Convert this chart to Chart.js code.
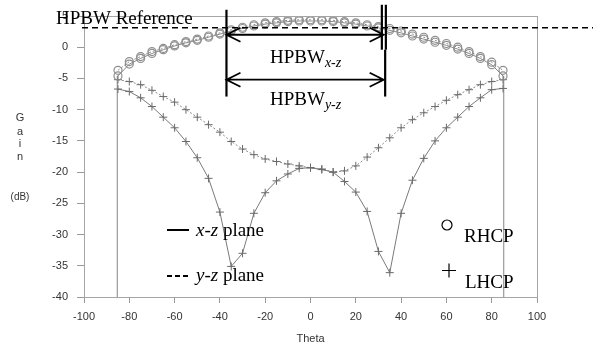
<!DOCTYPE html>
<html>
<head>
<meta charset="utf-8">
<script src="https://cdn.jsdelivr.net/npm/chart.js@4.4.1/dist/chart.umd.min.js"></script>
<style>
  html, body { margin: 0; padding: 0; background: #fff; }
  #wrap { width: 593px; height: 350px; }
</style>
</head>
<body>
<div id="wrap"><canvas id="gainChart" width="593" height="350"></canvas></div>
<script>
// theta (deg) sample points
const theta = [-85, -80, -75, -70, -65, -60, -55, -50, -45, -40, -35, -30, -25, -20, -15, -10, -5, 0,
               5, 10, 15, 20, 25, 30, 35, 40, 45, 50, 55, 60, 65, 70, 75, 80, 85];

// gain in dB
const rhcpXZ = [-4.6, -2.7, -1.8, -1.0, -0.4, 0.2, 0.7, 1.1, 1.6, 2.1, 2.6, 3.0, 3.4, 3.7, 3.9, 4.1, 4.2, 4.2,
                4.2, 4.1, 3.9, 3.7, 3.4, 3.1, 2.7, 2.3, 1.8, 1.3, 0.8, 0.3, -0.3, -1.0, -1.8, -2.8, -4.6];
const rhcpYZ = [-3.7, -2.3, -1.5, -0.7, -0.2, 0.4, 0.9, 1.3, 1.8, 2.3, 2.8, 3.2, 3.6, 3.9, 4.1, 4.3, 4.4, 4.4,
                4.4, 4.3, 4.1, 3.9, 3.6, 3.3, 3.0, 2.6, 2.1, 1.6, 1.1, 0.6, 0.0, -0.7, -1.5, -2.4, -3.7];
const lhcpXZ = [-6.7, -7.1, -8.1, -9.5, -11.2, -12.9, -15.1, -17.7, -21.0, -26.4, -35.1, -33.0, -26.6, -23.3, -21.4, -20.3, -19.4, -19.3,
                -19.6, -20.0, -21.5, -23.2, -26.3, -32.7, -36.1, -26.6, -21.3, -17.8, -15.0, -12.9, -11.2, -9.5, -8.1, -6.8, -6.6];
const lhcpYZ = [-5.2, -5.5, -6.0, -6.9, -7.9, -8.8, -10.0, -11.2, -12.4, -13.6, -15.1, -16.3, -17.2, -17.9, -18.3, -18.7, -19.0, -19.3,
                -19.5, -20.0, -19.8, -19.0, -17.6, -16.1, -14.5, -12.9, -11.6, -10.5, -9.5, -8.5, -7.6, -6.8, -6.0, -5.5, -5.2];

// vertical drop lines at the scan edges
const edgeLeft = [{ x: -85.3, y: -40 }, { x: -85.3, y: -4.6 }];
const edgeRight = [{ x: 85.3, y: -40 }, { x: 85.3, y: -4.6 }];

// axis ticks
const xTicks = [-100, -80, -60, -40, -20, 0, 20, 40, 60, 80, 100];
const yTicks = [-40, -35, -30, -25, -20, -15, -10, -5, 0, 5];

// HPBW annotation (theta / dB)
const hpbwRefDb = 3.1;
const hpbwLeft = -37.1;
const hpbwRight = 32.3;
const arrowXZdb = 2.0;
const arrowYZdb = -5.2;

const pts = vals => theta.map((t, i) => ({ x: t, y: vals[i] }));

const grey = '#8a8a8a';
const serif = '"Liberation Serif", "Times New Roman", serif';
const sans = '"Liberation Sans", Arial, sans-serif';

const overlay = {
  id: 'overlay',
  afterDraw(chart) {
    const { ctx, chartArea: a, scales: { x, y } } = chart;
    ctx.save();

    // frame
    ctx.strokeStyle = '#a5a5a5';
    ctx.lineWidth = 1;
    ctx.strokeRect(Math.round(a.left) + 0.5, Math.round(a.top) + 0.5,
                   Math.round(a.right - a.left), Math.round(a.bottom - a.top));

    // axis titles
    ctx.fillStyle = '#333';
    ctx.font = '11px ' + sans;
    ctx.textAlign = 'center';
    ctx.textBaseline = 'middle';
    ctx.fillText('Theta', x.getPixelForValue(0), 339);
    [['G', 118], ['a', 132], ['i', 144], ['n', 157]].forEach(([c, py]) => ctx.fillText(c, 20, py));
    ctx.font = '10px ' + sans;
    ctx.fillText('(dB)', 20, 197);

    // HPBW reference dashed line
    const refY = y.getPixelForValue(hpbwRefDb);
    ctx.strokeStyle = '#000';
    ctx.lineWidth = 1.5;
    ctx.setLineDash([6, 4]);
    ctx.beginPath();
    ctx.moveTo(82, refY);
    ctx.lineTo(593, refY);
    ctx.stroke();
    ctx.setLineDash([]);

    ctx.font = '19px ' + serif;
    ctx.textAlign = 'left';
    ctx.textBaseline = 'alphabetic';
    ctx.fillStyle = '#000';
    ctx.fillText('HPBW Reference', 56, 24);

    // HPBW markers
    const xl = x.getPixelForValue(hpbwLeft);
    const xr = x.getPixelForValue(hpbwRight);
    ctx.lineWidth = 2.2;
    const vline = (px, d1, d2) => {
      ctx.beginPath();
      ctx.moveTo(px, y.getPixelForValue(d1));
      ctx.lineTo(px, y.getPixelForValue(d2));
      ctx.stroke();
    };
    vline(xl, 6.0, -7.9);
    vline(xr - 1.8, 6.8, -0.4);
    vline(xr + 2.2, 6.8, -0.4);
    vline(xr + 1.5, -0.4, -7.9);

    ctx.lineWidth = 1.8;
    const arrow = db => {
      const py = y.getPixelForValue(db);
      ctx.beginPath();
      ctx.moveTo(xl, py); ctx.lineTo(xr, py);
      ctx.moveTo(xl + 14, py - 7); ctx.lineTo(xl, py); ctx.lineTo(xl + 14, py + 7);
      ctx.moveTo(xr - 14, py - 7); ctx.lineTo(xr, py); ctx.lineTo(xr - 14, py + 7);
      ctx.stroke();
    };
    arrow(arrowXZdb);
    arrow(arrowYZdb);

    const hpbwLabel = (sub, px, py) => {
      ctx.font = '19px ' + serif;
      ctx.fillText('HPBW', px, py);
      const w = ctx.measureText('HPBW').width;
      ctx.font = 'italic 14px ' + serif;
      ctx.fillText(sub, px + w, py + 4);
    };
    hpbwLabel('x-z', 270, 63);
    hpbwLabel('y-z', 270, 105);

    // plane legend
    ctx.lineWidth = 2;
    ctx.beginPath();
    ctx.moveTo(167, 230); ctx.lineTo(189, 230);
    ctx.stroke();
    ctx.setLineDash([5, 3]);
    ctx.beginPath();
    ctx.moveTo(167, 276); ctx.lineTo(191, 276);
    ctx.stroke();
    ctx.setLineDash([]);
    const planeLabel = (pre, px, py) => {
      ctx.font = 'italic 19px ' + serif;
      ctx.fillText(pre, px, py);
      const w = ctx.measureText(pre).width;
      ctx.font = '19px ' + serif;
      ctx.fillText(' plane', px + w, py);
    };
    planeLabel('x-z', 196, 236);
    planeLabel('y-z', 196, 281);

    // polarisation legend
    ctx.lineWidth = 1.2;
    ctx.beginPath();
    ctx.arc(447, 225, 5, 0, Math.PI * 2);
    ctx.stroke();
    ctx.beginPath();
    ctx.moveTo(442, 270.5); ctx.lineTo(456, 270.5);
    ctx.moveTo(449, 263.5); ctx.lineTo(449, 277.5);
    ctx.stroke();
    ctx.font = '19px ' + serif;
    ctx.fillText('RHCP', 464, 242);
    ctx.fillText('LHCP', 465, 288);

    ctx.restore();
  }
};

const ctx = document.getElementById('gainChart');
const myChart = new Chart(ctx, {
  type: 'line',
  data: {
    datasets: [
      {
        label: 'RHCP x-z',
        data: pts(rhcpXZ),
        borderColor: grey, borderWidth: 1,
        pointStyle: 'circle', pointRadius: 4, pointBorderWidth: 1.2,
        pointBorderColor: '#8f8f8f', pointBackgroundColor: 'rgba(255,255,255,0)'
      },
      {
        label: 'RHCP y-z',
        data: pts(rhcpYZ),
        borderColor: grey, borderWidth: 1, borderDash: [2, 2],
        pointStyle: 'circle', pointRadius: 4, pointBorderWidth: 1.2,
        pointBorderColor: '#8f8f8f', pointBackgroundColor: 'rgba(255,255,255,0)'
      },
      {
        label: 'LHCP x-z',
        data: pts(lhcpXZ),
        borderColor: '#7a7a7a', borderWidth: 1,
        pointStyle: 'cross', pointRadius: 4, pointBorderWidth: 1,
        pointBorderColor: '#6a6a6a'
      },
      {
        label: 'LHCP y-z',
        data: pts(lhcpYZ),
        borderColor: grey, borderWidth: 1, borderDash: [2, 2],
        pointStyle: 'cross', pointRadius: 4, pointBorderWidth: 1,
        pointBorderColor: '#6a6a6a'
      },
      { label: 'edge L', data: edgeLeft, borderColor: '#999', borderWidth: 1.2, pointRadius: 0 },
      { label: 'edge R', data: edgeRight, borderColor: '#999', borderWidth: 1.2, pointRadius: 0 }
    ]
  },
  options: {
    responsive: false,
    animation: false,
    devicePixelRatio: 1,
    layout: { padding: { left: 0, top: 16, right: 56, bottom: 0 } },
    elements: { line: { tension: 0 } },
    plugins: { legend: { display: false }, tooltip: { enabled: false } },
    scales: {
      x: {
        type: 'linear', min: -100, max: 100,
        afterBuildTicks: s => { s.ticks = xTicks.map(v => ({ value: v })); },
        afterFit: s => { s.height = 53; },
        ticks: { color: '#333', font: { family: sans, size: 11 }, padding: 7, maxRotation: 0 },
        grid: { drawOnChartArea: false, tickLength: 6, color: '#999' },
        border: { display: false }
      },
      y: {
        min: -40, max: 5,
        afterBuildTicks: s => { s.ticks = yTicks.map(v => ({ value: v })); },
        afterFit: s => { s.width = 84; },
        ticks: { color: '#333', font: { family: sans, size: 11 }, padding: 9 },
        grid: { drawOnChartArea: false, tickLength: 7, color: '#999' },
        border: { display: false }
      }
    }
  },
  plugins: [overlay]
});
</script>
</body>
</html>
